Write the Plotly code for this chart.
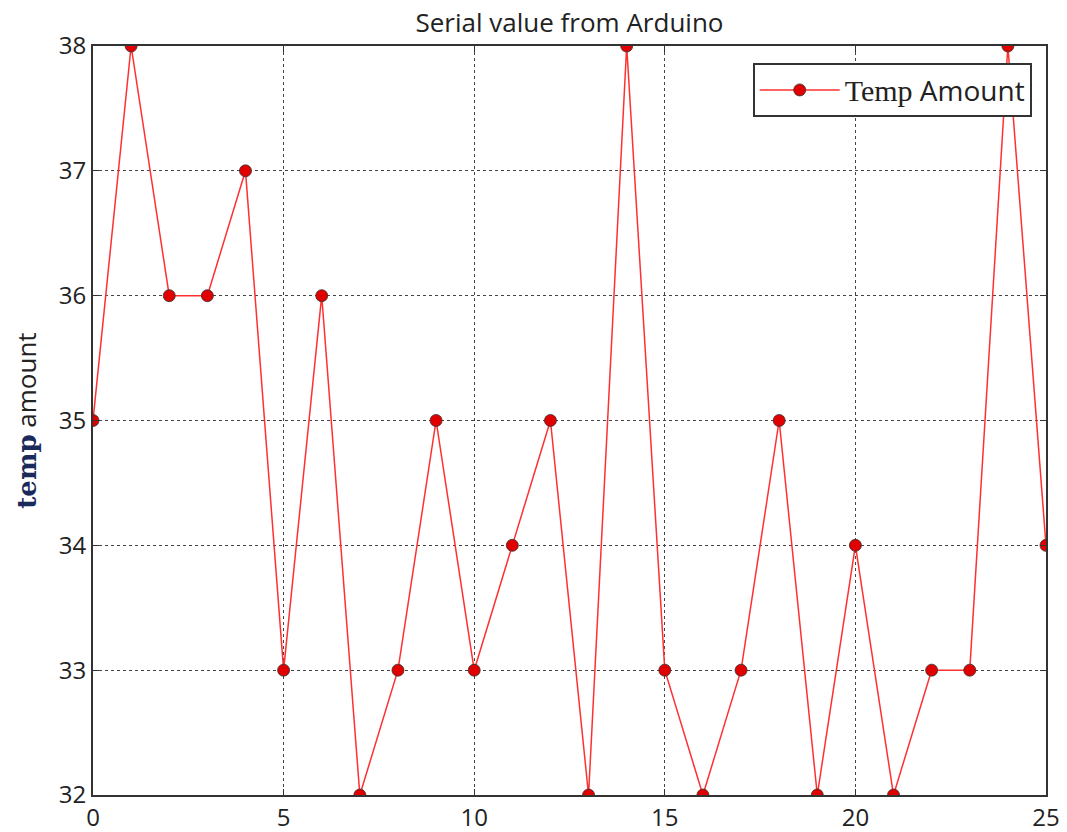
import plotly.graph_objects as go

x_vals = list(range(26))
temp_vals = [35, 38, 36, 36, 37, 33, 36, 32, 33, 35, 33, 34, 35, 32, 38, 33, 32, 33, 35, 32, 34, 32, 33, 33, 38, 34]
x_ticks = [0, 5, 10, 15, 20, 25]
y_ticks = [32, 33, 34, 35, 36, 37, 38]

FONT = "Open Sans, DejaVu Sans, sans-serif"
W, H = 1059, 824

fig = go.Figure()
fig.add_trace(go.Scatter(
    x=x_vals, y=temp_vals, mode="lines+markers",
    name='<span style="font-family:Liberation Serif, serif;font-size:30px">Temp</span> Amount',
    line=dict(color="#ff3030", width=1.5),
    marker=dict(color="#e00000", size=12, line=dict(color="#333333", width=0.8)),
    cliponaxis=True,
))

axis_common = dict(
    showline=True, linecolor="#333333", linewidth=2, mirror="allticks",
    ticks="inside", ticklen=6, tickcolor="#333333", tickwidth=1,
    showgrid=True, gridcolor="#444444", griddash="dot", gridwidth=1,
    zeroline=False, automargin=False,
    tickfont=dict(family=FONT, size=24, color="#222222"),
)

fig.update_layout(
    width=W, height=H,
    paper_bgcolor="white", plot_bgcolor="white",
    margin=dict(l=85, r=21, t=38, b=37),
    title=dict(text="Serial value from Arduino", x=(85 + 953 / 2) / W, xanchor="center",
               y=1 - 15 / H, yanchor="middle",
               font=dict(family=FONT, size=26, color="#222222")),
    xaxis=dict(range=[0, 25], tickvals=x_ticks, **axis_common),
    yaxis=dict(range=[32, 38], tickvals=y_ticks,
               title=dict(text='<span style="font-family:DejaVu Serif, serif;font-weight:bold;color:#1a2a5a">temp</span> amount',
                          font=dict(family=FONT, size=26, color="#222222"), standoff=18),
               **axis_common),
    showlegend=True,
    legend=dict(x=0.985, y=0.977, xanchor="right", yanchor="top",
                bgcolor="white", bordercolor="#333333", borderwidth=2,
                font=dict(family=FONT, size=28, color="#222222"),
                itemwidth=80),
)

fig.write_html("out.html")
